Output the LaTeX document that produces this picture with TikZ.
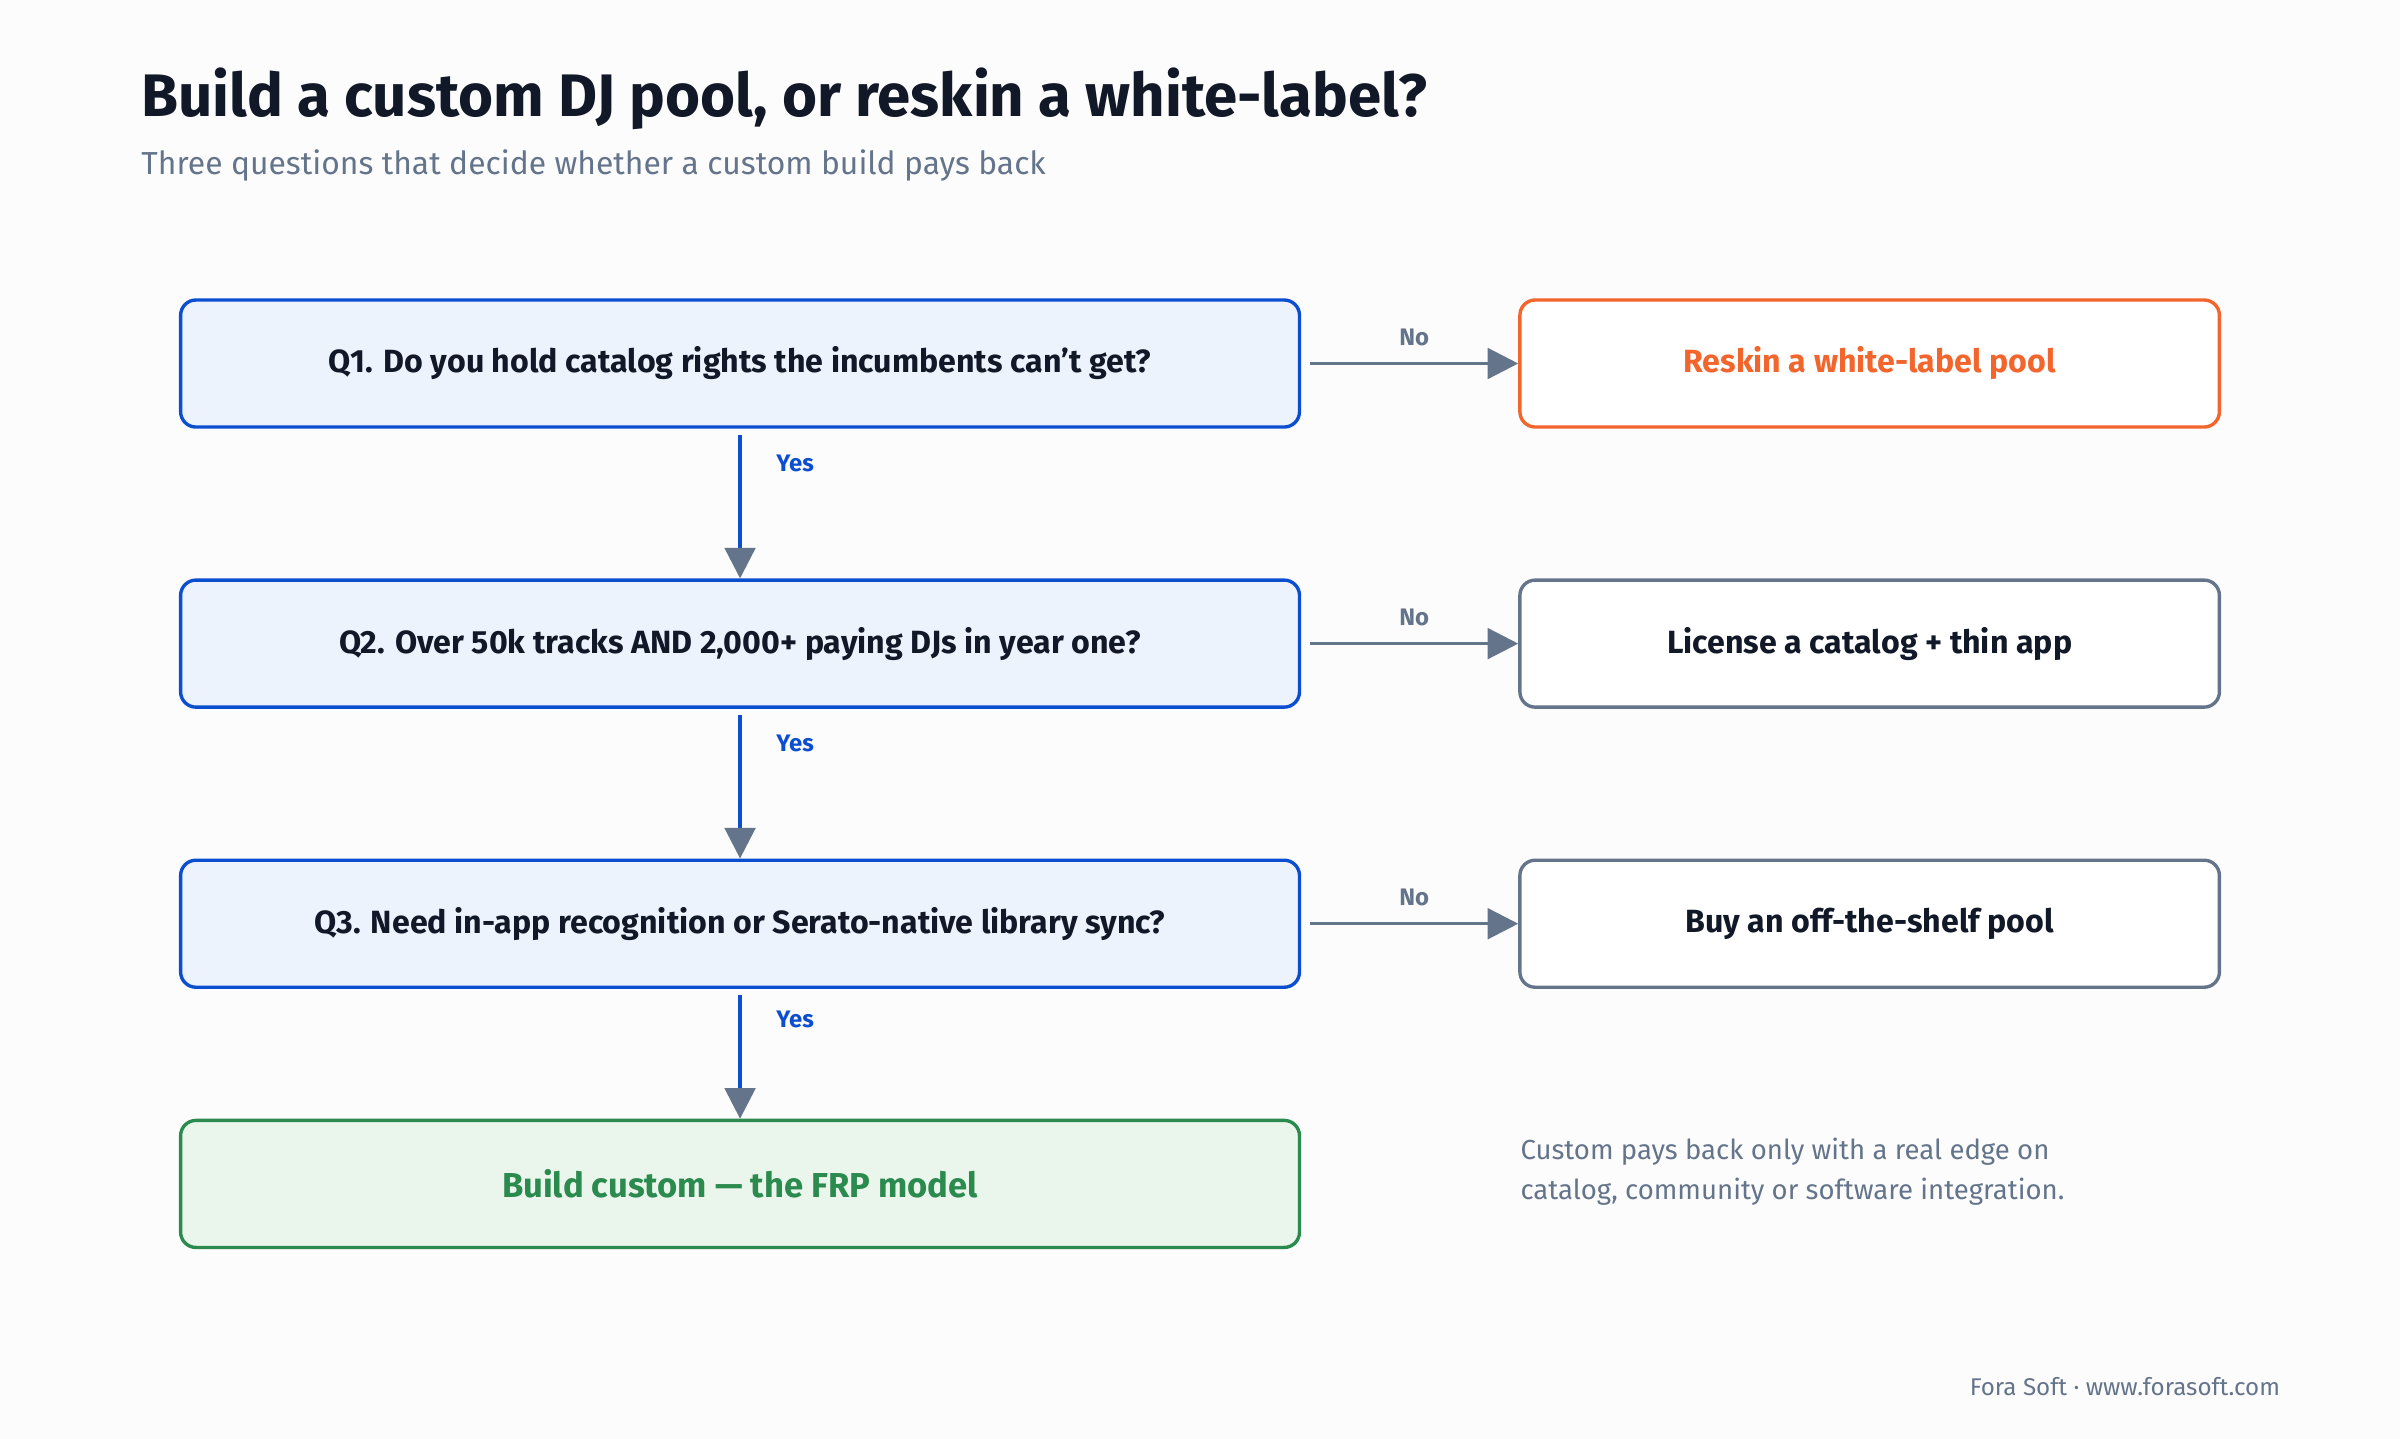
\documentclass[tikz,border=0pt]{standalone}
\usepackage{fontspec}
\setmainfont{Fira Sans}
\usetikzlibrary{arrows.meta}
\definecolor{ink}{HTML}{111827}
\definecolor{slate}{HTML}{64748B}
\definecolor{qblue}{HTML}{0B4FD0}
\definecolor{qfill}{HTML}{EDF3FD}
\definecolor{orng}{HTML}{F2652D}
\definecolor{grn}{HTML}{2B8A4E}
\definecolor{gfill}{HTML}{EAF5EC}
\begin{document}
\begin{tikzpicture}[x=0.5pt,y=-0.5pt,
  box/.style={rounded corners=5pt,line width=1.1pt,inner sep=0pt,font=\fontsize{10.5}{12}\selectfont\bfseries},
  q/.style={box,draw=qblue,fill=qfill,text=ink,minimum width=365.5pt,minimum height=41.5pt},
  r/.style={box,fill=white,minimum width=228.5pt,minimum height=41.5pt},
  lab/.style={font=\fontsize{7.8}{9}\selectfont\bfseries},
  harr/.style={line width=1.1pt,slate,-{Triangle[length=10pt,width=10pt]}},
  varr/.style={line width=1.1pt,qblue,-{Triangle[length=10pt,width=10pt,color=slate,fill=slate]}}]
\fill[white!98!gray] (0,0) rectangle (1568,940);
\useasboundingbox (0,0) rectangle (1568,940);
\node[anchor=base west,text=ink,font=\fontsize{19.6}{22}\selectfont\bfseries,inner sep=0] (t) at (92,76) {Build a custom DJ pool, or reskin a white-label?};
\node[anchor=base west,text=slate,font=\fontsize{10.4}{12}\selectfont,inner sep=0] (st) at (92,114) {Three questions that decide whether a custom build pays back};
\node[q] (q1) at (483.5,237.5) {Q1. Do you hold catalog rights the incumbents can’t get?};
\node[q] (q2) at (483.5,420.5) {Q2. Over 50k tracks AND 2,000+ paying DJs in year one?};
\node[q] (q3) at (483.5,603.5) {Q3. Need in-app recognition or Serato-native library sync?};
\node[box,draw=grn,fill=gfill,text=grn,minimum width=365.5pt,minimum height=41.5pt,font=\fontsize{11.3}{13}\selectfont\bfseries] (b) at (483.5,773.5) {Build custom — the FRP model};
\node[r,draw=orng,text=orng] (r1) at (1221.5,237.5) {Reskin a white-label pool};
\node[r,draw=slate,text=ink] (r2) at (1221.5,420.5) {License a catalog + thin app};
\node[r,draw=slate,text=ink] (r3) at (1221.5,603.5) {Buy an off-the-shelf pool};
\foreach \a/\c in {q1/r1,q2/r2,q3/r3}{
  \coordinate (s\a) at ([xshift=3pt]\a.east);
  \draw[harr] (s\a) -- (\c.west) node[midway,above=2pt,lab,text=slate] {No};}
\foreach \a/\c in {q1/q2,q2/q3,q3/b}{
  \coordinate (v\a) at ([yshift=-2pt]\a.south);
  \draw[varr] (v\a) -- (\c.north) node[pos=0.2,right=8pt,lab,text=qblue] {Yes};}
\node[anchor=north west,align=left,text=slate,font=\fontsize{9}{13}\selectfont,inner sep=0] (n) at (993,743) {Custom pays back only with a real edge on\\catalog, community or software integration.};
\node[anchor=base east,text=slate,font=\fontsize{7.9}{9}\selectfont,inner sep=0] (f) at (1490,912) {Fora Soft · www.forasoft.com};
\end{tikzpicture}
\end{document}
